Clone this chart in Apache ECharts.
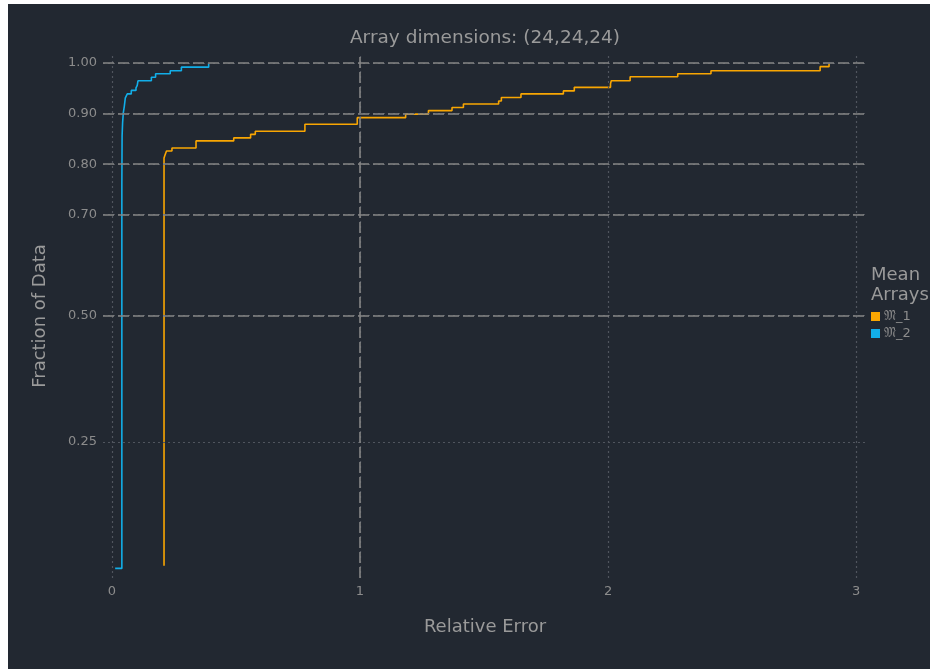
<!DOCTYPE html>
<html>
<head>
<meta charset="utf-8">
<script src="https://cdn.jsdelivr.net/npm/echarts@6/dist/echarts.min.js"></script>
<style>
  html, body { margin: 0; padding: 0; background: #ffffff; width: 930px; height: 669px; overflow: hidden; }
  #c { position: absolute; left: 8px; top: 4px; width: 922px; height: 665px; }
</style>
</head>
<body>
<div id="c"></div>
<script>
// ---- data ----
const titleText = 'Array dimensions: (24,24,24)';
const xName = 'Relative Error';
const yName = 'Fraction of Data';
const legendTitle = 'Mean\nArrays';
const seriesNames = ['\u{1D510}_1', '\u{1D510}_2'];

const xTicks = [0, 1, 2, 3];
const yTicks = [0.25, 0.5, 0.7, 0.8, 0.9, 1.0];
const refY = [0.5, 0.7, 0.8, 0.9, 1.0];
const refX = [1];

// ECDF of mean array 1 (orange)
const m1X = [0.210, 0.210, 0.214, 0.220, 0.242, 0.339, 0.491, 0.559, 0.578, 0.778, 0.989, 1.184, 1.276, 1.371, 1.417, 1.559, 1.570, 1.649, 1.820, 1.864, 2.010, 2.013, 2.089, 2.281, 2.415, 2.855, 2.891];
const m1Y = [0.005, 0.812, 0.818, 0.826, 0.832, 0.846, 0.852, 0.859, 0.865, 0.879, 0.892, 0.899, 0.906, 0.912, 0.919, 0.925, 0.932, 0.939, 0.945, 0.952, 0.959, 0.965, 0.973, 0.979, 0.985, 0.993, 1.000];

// ECDF of mean array 2 (blue)
const m2X = [0.013, 0.040, 0.041, 0.043, 0.046, 0.050, 0.054, 0.062, 0.078, 0.097, 0.102, 0.105, 0.159, 0.176, 0.235, 0.280, 0.390];
const m2Y = [0.000, 0.760, 0.856, 0.882, 0.902, 0.915, 0.931, 0.939, 0.946, 0.951, 0.956, 0.965, 0.972, 0.979, 0.985, 0.992, 1.000];

// ---- styling ----
const BG = '#222831';
const TXT = '#9a9a9a';
const TICK = '#8c8c8c';
const ORANGE = '#f9a602';
const BLUE = '#12aee8';
const FONT = 'DejaVu Sans';

const zip = (xs, ys) => xs.map((x, i) => [x, ys[i]]);

const gridLines = [
  ...xTicks.map(v => ({ xAxis: v })),
  ...yTicks.map(v => ({ yAxis: v }))
];
const refLines = [
  ...refX.map(v => ({ xAxis: v })),
  ...refY.map(v => ({ yAxis: v }))
];

const chart = echarts.init(document.getElementById('c'), null, { renderer: 'canvas' });
chart.setOption({
  backgroundColor: BG,
  animation: false,
  textStyle: { fontFamily: FONT },
  grid: { left: 95, top: 50, right: 63, bottom: 91, containLabel: false },
  xAxis: {
    type: 'value', min: -0.036, max: 3.044,
    name: xName, nameLocation: 'middle', nameGap: 40,
    nameTextStyle: { color: TXT, fontSize: 18, fontFamily: FONT },
    axisLine: { show: false }, axisTick: { show: false }, splitLine: { show: false },
    axisLabel: { customValues: xTicks, color: TICK, fontSize: 13, margin: 7, fontFamily: FONT,
      formatter: v => String(Math.round(v)) }
  },
  yAxis: {
    type: 'value', min: -0.019, max: 1.018,
    name: yName, nameLocation: 'middle', nameGap: 54, nameRotate: 90,
    nameTextStyle: { color: TXT, fontSize: 18, fontFamily: FONT },
    axisLine: { show: false }, axisTick: { show: false }, splitLine: { show: false },
    axisLabel: { customValues: yTicks, color: TICK, fontSize: 13, margin: 6, fontFamily: FONT,
      formatter: v => v.toFixed(2) }
  },
  legend: {
    orient: 'vertical', left: 863, top: 306, padding: 0,
    icon: 'rect', itemWidth: 9, itemHeight: 9, itemGap: 4,
    textStyle: { color: TICK, fontSize: 13, fontFamily: FONT, padding: [0, 0, 0, -1] },
    data: seriesNames
  },
  graphic: [
    { type: 'text', x: 477, y: 34.5, silent: true,
      style: { text: titleText, fill: TXT, font: '18.5px "DejaVu Sans"', textAlign: 'center', textVerticalAlign: 'middle' } },
    { type: 'text', x: 863, y: 261, silent: true,
      style: { text: legendTitle, fill: TXT, font: '18px "DejaVu Sans"', lineHeight: 20, textAlign: 'left', textVerticalAlign: 'top' } }
  ],
  series: [
    {
      type: 'line', name: '_grid', data: [], z: 1, silent: true,
      markLine: { silent: true, symbol: 'none', label: { show: false },
        lineStyle: { color: '#50555e', width: 1.2, type: [2, 3] }, data: gridLines }
    },
    {
      type: 'line', name: '_ref', data: [], z: 1, silent: true,
      markLine: { silent: true, symbol: 'none', label: { show: false },
        lineStyle: { color: '#858585', width: 1.6, type: [11, 4] }, data: refLines }
    },
    {
      type: 'line', name: seriesNames[0], data: zip(m1X, m1Y), step: 'end', z: 3,
      showSymbol: false, symbol: 'none', color: ORANGE,
      lineStyle: { color: ORANGE, width: 1.6 }
    },
    {
      type: 'line', name: seriesNames[1], data: zip(m2X, m2Y), step: 'end', z: 3,
      showSymbol: false, symbol: 'none', color: BLUE,
      lineStyle: { color: BLUE, width: 1.6 }
    }
  ]
});
</script>
</body>
</html>
